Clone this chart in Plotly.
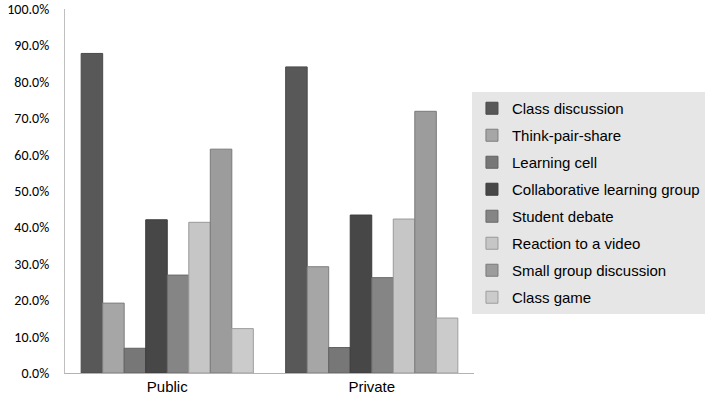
import plotly.graph_objects as go

# categories on the x axis
groups = ["Public", "Private"]

# one series per activity (share of respondents)
activities = [
    "Class discussion", "Think-pair-share", "Learning cell",
    "Collaborative learning group", "Student debate", "Reaction to a video",
    "Small group discussion", "Class game",
]
public_vals = [0.878, 0.192, 0.068, 0.421, 0.269, 0.414, 0.615, 0.122]
private_vals = [0.841, 0.292, 0.070, 0.434, 0.262, 0.423, 0.719, 0.151]

fills = ["#585858", "#a6a6a6", "#777777", "#474747",
         "#858585", "#c6c6c6", "#9c9c9c", "#cbcbcb"]
edges = ["#4a4a4a", "#7e7e7e", "#626262", "#3c3c3c",
         "#6a6a6a", "#9a9a9a", "#7a7a7a", "#9e9e9e"]

fig = go.Figure()
for i, name in enumerate(activities):
    fig.add_trace(go.Bar(
        x=groups, y=[public_vals[i], private_vals[i]], name=name,
        legendgroup=name,
        marker=dict(color=fills[i], line=dict(color=edges[i], width=1)),
    ))

fig.update_layout(
    width=709, height=400,
    margin=dict(l=65, r=235, t=9, b=27, autoexpand=False),
    plot_bgcolor="white", paper_bgcolor="white",
    barmode="group", bargap=0.158, bargroupgap=0,
    font=dict(family="Liberation Sans, Arial", color="#000000", size=14),
    legend=dict(
        x=0.995, y=0.772, xanchor="left", yanchor="top",
        bgcolor="#e6e6e6", tracegroupgap=4.5,
        font=dict(size=15, family="Liberation Sans, Arial"),
        itemwidth=30,
    ),
    xaxis=dict(showline=True, linecolor="#b3b3b3", linewidth=1,
               ticks="", tickfont=dict(size=15), automargin=False),
    yaxis=dict(range=[0, 1.0001], tickvals=[i / 10 for i in range(11)],
               tickformat=".1%", ticklabeloverflow="allow",
               showgrid=False, zeroline=False,
               showline=True, linecolor="#bfbfbf", linewidth=1,
               ticks="", ticklabelstandoff=12, automargin=False,
               tickfont=dict(size=14, family="Carlito, Liberation Sans Narrow, Liberation Sans")),
)

# drop the default 8px page margin so the figure fills the window
fig.write_html("out.html", config={"displayModeBar": False},
               post_script="document.body.style.margin='0';")
